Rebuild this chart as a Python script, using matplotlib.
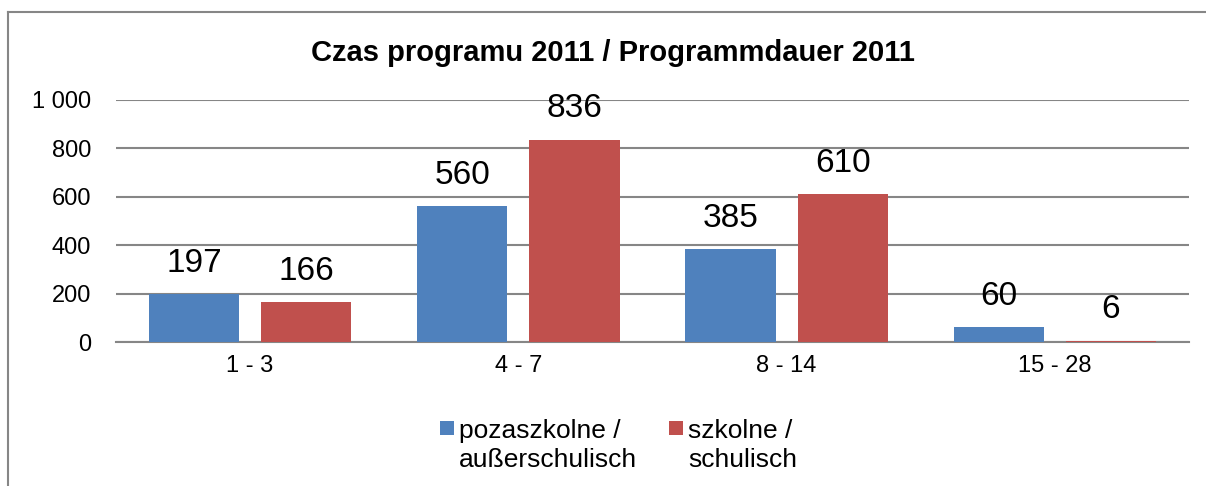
import matplotlib
matplotlib.use("Agg")
import matplotlib.pyplot as plt
from matplotlib.patches import Rectangle
from matplotlib.lines import Line2D
import numpy as np

plt.rcParams['font.family'] = ['Liberation Sans', 'DejaVu Sans']

title = "Czas programu 2011 / Programmdauer 2011"
categories = ["1 - 3", "4 - 7", "8 - 14", "15 - 28"]
series_names = [["pozaszkolne /", "außerschulisch"], ["szkolne /", "schulisch"]]
pozaszkolne = [197, 560, 385, 60]
szkolne = [166, 836, 610, 6]
yticks = [0, 200, 400, 600, 800, 1000]
ytick_labels = ["0", "200", "400", "600", "800", "1 000"]

colors = ["#4F81BD", "#C0504D"]
W, H = 1206, 486
fig = plt.figure(figsize=(W / 100, H / 100), dpi=100)
fig.patch.set_facecolor("white")

def fx(px):
    return px / W

def fy(py):
    return 1 - py / H

ax = fig.add_axes([fx(116), fy(342), fx(1189) - fx(116), fy(100) - fy(342)])
x = np.arange(len(categories))
bw = 0.336
off = 0.209
for vals, c, o in [(pozaszkolne, colors[0], -off), (szkolne, colors[1], off)]:
    bars = ax.bar(x + o, vals, width=bw, color=c, zorder=3)
    for b, v in zip(bars, vals):
        ax.annotate(str(v), (b.get_x() + b.get_width() / 2, v), xytext=(0, 11),
                    textcoords="offset points", ha="center", va="bottom",
                    fontsize=24, color="black", annotation_clip=False)

ax.set_xlim(-0.5, len(categories) - 0.5)
ax.set_ylim(0, 1000)
ax.set_yticks(yticks)
ax.set_yticklabels(ytick_labels, fontsize=17)
ax.set_xticks(x)
ax.set_xticklabels(categories, fontsize=17)
ax.tick_params(axis="y", length=0, pad=18)
ax.tick_params(axis="x", length=0, pad=9)
ax.grid(axis="y", color="#868686", linewidth=1.5, zorder=0)
for s in ["top", "right", "left"]:
    ax.spines[s].set_visible(False)
ax.spines["bottom"].set_color("#868686")
ax.spines["bottom"].set_linewidth(1.5)
ax.set_facecolor("none")

fig.text(fx(613), fy(61), title, ha="center", va="baseline", fontsize=21, fontweight="bold")

# legend (manual)
leg = [(440, 459, colors[0], series_names[0]), (669, 688, colors[1], series_names[1])]
for sx, tx, c, lines in leg:
    fig.patches.append(Rectangle((fx(sx), fy(435)), fx(13.5), fy(421) - fy(435),
                                 transform=fig.transFigure, facecolor=c, edgecolor="none"))
    fig.text(fx(tx), fy(438), lines[0], ha="left", va="baseline", fontsize=19)
    fig.text(fx(tx), fy(467), lines[1], ha="left", va="baseline", fontsize=19)

# outer frame
fig.add_artist(Line2D([fx(8), fx(8)], [fy(12), 0], transform=fig.transFigure, color="#868686", linewidth=1.5))
fig.add_artist(Line2D([fx(8), 1], [fy(12), fy(12)], transform=fig.transFigure, color="#868686", linewidth=1.5))

fig.savefig("out.png", dpi=100)
